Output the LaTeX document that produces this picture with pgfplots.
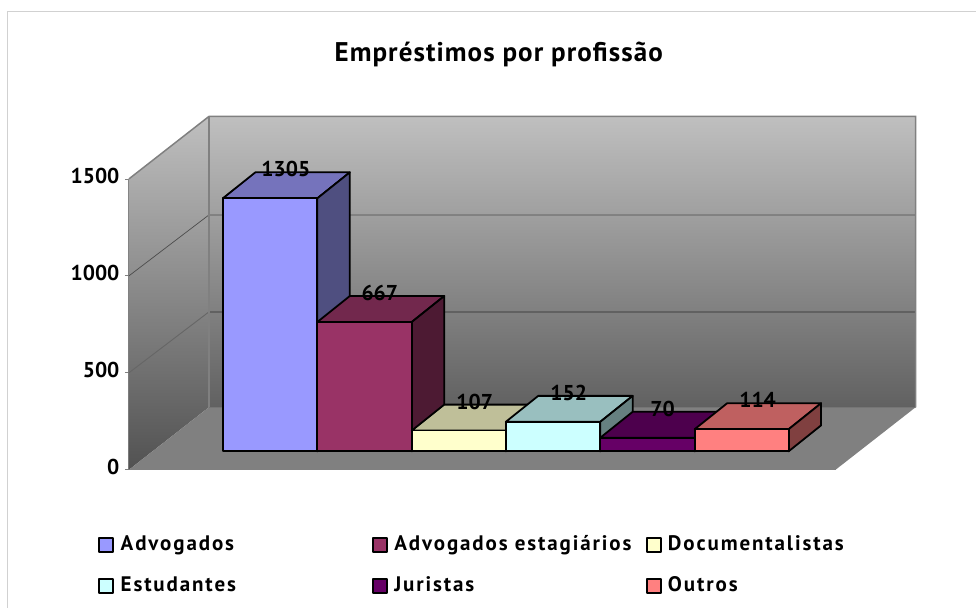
\documentclass[border=0pt]{standalone}
\usepackage{fontspec}
\setmainfont{PT Sans}
\usepackage{pgfplots}
\pgfplotsset{compat=1.18}
\definecolor{cA}{HTML}{9999FF}\definecolor{cAt}{HTML}{7573BC}\definecolor{cAs}{HTML}{4F4F80}
\definecolor{cB}{HTML}{993366}\definecolor{cBt}{HTML}{72284D}\definecolor{cBs}{HTML}{4D1A33}
\definecolor{cC}{HTML}{FFFFCC}\definecolor{cCt}{HTML}{BFBF99}\definecolor{cCs}{HTML}{808066}
\definecolor{cD}{HTML}{CCFFFF}\definecolor{cDt}{HTML}{99BFBF}\definecolor{cDs}{HTML}{668080}
\definecolor{cE}{HTML}{660066}\definecolor{cEt}{HTML}{4D004D}\definecolor{cEs}{HTML}{330033}
\definecolor{cF}{HTML}{FF8080}\definecolor{cFt}{HTML}{BF6060}\definecolor{cFs}{HTML}{804040}
\definecolor{edge}{HTML}{808080}
\newfontfamily\legfont[LetterSpace=9]{PT Sans}
\newfontfamily\titlefont[LetterSpace=4]{PT Sans}
\newcommand{\threedbar}[7]{%
  \pgfmathsetmacro\yt{#3+95}%
  \pgfmathsetmacro\ybt{#3+95+134}%
  \pgfmathsetmacro\xa{#1+32.5}%
  \pgfmathsetmacro\xb{#2+32.5}%
  \edef\tmp{\noexpand\addplot[forget plot,fill=#5,draw=black,line width=1.8pt,line join=round]
     coordinates {(#1,\yt)(\xa,\ybt)(\xb,\ybt)(#2,\yt)} -- cycle;}\tmp
  \edef\tmp{\noexpand\addplot[forget plot,fill=#6,draw=black,line width=1.8pt,line join=round]
     coordinates {(#2,95)(\xb,229)(\xb,\ybt)(#2,\yt)} -- cycle;}\tmp
  \edef\tmp{\noexpand\addplot[fill=#4,draw=black,line width=1.8pt,line join=round]
     coordinates {(#1,95)(#1,\yt)(#2,\yt)(#2,95)} -- cycle;}\tmp
  \addlegendentry{#7}%
}
\begin{document}
\begin{tikzpicture}
\begin{axis}[
  scale only axis, width=707pt, height=291pt,
  xmin=129, xmax=836, ymin=0, ymax=1500, clip=false,
  axis x line*=bottom, axis y line*=left,
  axis line style={-,draw=edge,line width=1pt},
  xtick=\empty, ytick={0,500,1000,1500},
  tick style={draw=edge,line width=0.8pt}, tick align=outside, major tick length=4pt,
  /pgf/number format/assume math mode=true,
  /pgf/number format/1000 sep={},
  yticklabel style={font=\fontsize{21.5}{21.5}\selectfont\bfseries, xshift=-2pt, yshift=2.5pt},
  title={\titlefont\bfseries Empréstimos por profissão},
  title style={at={(0.5233,1.4058)},anchor=center,font=\fontsize{27}{27}\selectfont},
  legend columns=3,
  legend cell align=left,
  legend style={draw=none,fill=none,at={(-0.0435,-0.217)},anchor=north west,
     font=\fontsize{21}{21}\selectfont\legfont\bfseries,row sep=17pt,inner sep=0pt,
     nodes={text height=15pt,text depth=5pt},
     /tikz/every even column/.append style={column sep=11pt}},
  legend image code/.code={\draw[#1] (0pt,-7pt) rectangle (14pt,7pt);},
]
% frame
\draw[draw=black!18,line width=1pt] (axis cs:8,-711.34) -- (axis cs:8,2361) -- (axis cs:976,2361);
\path (axis cs:0,-711.34) rectangle (axis cs:976,2422.68);
% walls
\path[top color=black!25,bottom color=black!62] (axis cs:209,1822) -- (axis cs:916,1822) -- (axis cs:916,322) -- (axis cs:209,322) -- cycle;
\path[top color=black!25,bottom color=black!68] (axis cs:129,1500) -- (axis cs:209,1822) -- (axis cs:209,322) -- (axis cs:129,0) -- cycle;
\fill[edge] (axis cs:129,0) -- (axis cs:209,322) -- (axis cs:916,322) -- (axis cs:836,0) -- cycle;
% grid
\draw[black!60,line width=0.9pt] (axis cs:129,500) -- (axis cs:209,814);
\draw[black!62,line width=1.4pt] (axis cs:209,814) -- (axis cs:916,814);
\draw[black!70,line width=0.7pt] (axis cs:129,1000) -- (axis cs:209,1314) -- (axis cs:916,1314);
\draw[edge,line width=1.5pt] (axis cs:129,1500) -- (axis cs:209,1822) -- (axis cs:916,1822) -- (axis cs:916,322);
\draw[edge,line width=1.5pt] (axis cs:209,1822) -- (axis cs:209,322);
% bars
\threedbar{223}{317.5}{1305}{cA}{cAt}{cAs}{\makebox[243pt][l]{\hspace*{4.5pt}Advogados}}
\threedbar{317.5}{412}{667}{cB}{cBt}{cBs}{\makebox[243pt][l]{\hspace*{4.5pt}Advogados estagiários}}
\threedbar{412}{506}{107}{cC}{cCt}{cCs}{\hspace*{4.5pt}Documentalistas}
\threedbar{506}{600.5}{152}{cD}{cDt}{cDs}{\hspace*{4.5pt}Estudantes}
\threedbar{600.5}{695}{70}{cE}{cEt}{cEs}{\hspace*{4.5pt}Juristas}
\threedbar{695}{789}{114}{cF}{cFt}{cFs}{\hspace*{4.5pt}Outros}
% value labels
\addplot[forget plot,only marks,mark=none,nodes near coords,point meta=explicit symbolic,
  every node near coord/.append style={anchor=center,inner sep=0pt,font=\fontsize{21.5}{21.5}\selectfont\bfseries}]
  table[x=x,y expr=\thisrow{v}+95+134+15,meta=v] {
x v
286 1305
380 667
475 107
569 152
663 70
758 114
};
\end{axis}
\end{tikzpicture}
\end{document}
